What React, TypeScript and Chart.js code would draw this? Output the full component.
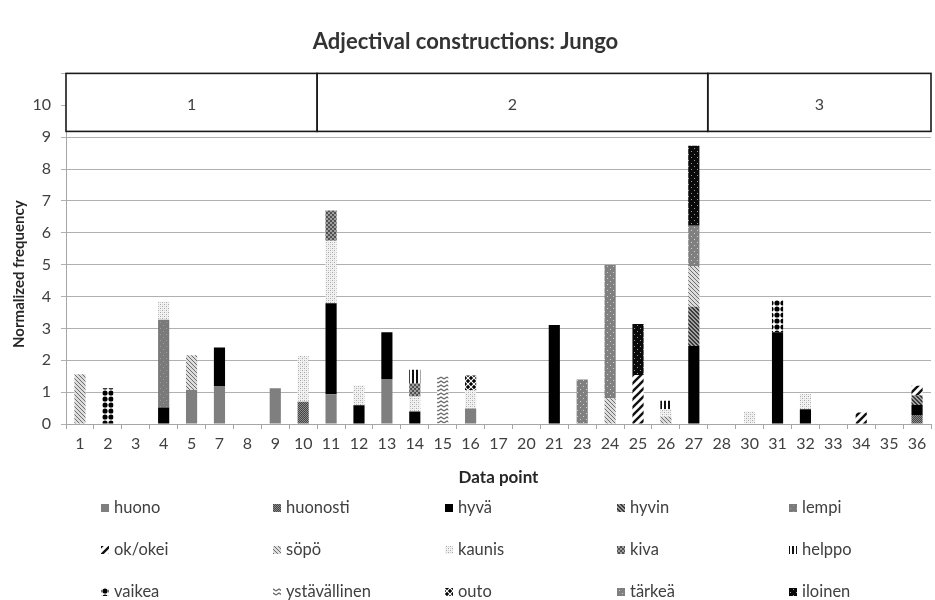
import React, { useEffect, useRef } from 'react';
import { Chart, registerables } from 'chart.js';

Chart.register(...registerables);

const categories = ['1', '2', '3', '4', '5', '7', '8', '9', '10', '11', '12', '13', '14', '15', '16', '17', '20', '21', '23', '24', '25', '26', '27', '28', '30', '31', '32', '33', '34', '35', '36'];

const seriesNames = ['huono', 'huonosti', 'hyvä', 'hyvin', 'lempi', 'ok/okei', 'söpö', 'kaunis', 'kiva', 'helppo', 'vaikea', 'ystävällinen', 'outo', 'tärkeä', 'iloinen'];

//                  1  2  3  4     5     7     8  9     10    11    12    13    14    15    16    17 20 21    23   24    25    26    27    28 30    31    32    33 34    35 36
const huono =      [0, 0, 0, 0,    1.07, 1.19, 0, 1.12, 0,    0.93, 0,    1.41, 0,    0,    0.49, 0, 0, 0,    0,   0,    0,    0,    0,    0, 0,    0,    0,    0, 0,    0, 0];
const huonosti =   [0, 0, 0, 0,    0,    0,    0, 0,    0.70, 0,    0,    0,    0,    0,    0,    0, 0, 0,    0,   0,    0,    0,    0,    0, 0,    0,    0,    0, 0,    0, 0.28];
const hyva =       [0, 0, 0, 0.52, 0,    1.21, 0, 0,    0,    2.86, 0.59, 1.47, 0.39, 0,    0,    0, 0, 3.11, 0,   0,    0,    0,    2.45, 0, 0,    2.88, 0.46, 0, 0,    0, 0.32];
const hyvin =      [0, 0, 0, 0,    0,    0,    0, 0,    0,    0,    0,    0,    0,    0,    0,    0, 0, 0,    0,   0,    0,    0,    1.23, 0, 0,    0,    0,    0, 0,    0, 0.30];
const lempi =      [0, 0, 0, 2.75, 0,    0,    0, 0,    0,    0,    0,    0,    0,    0,    0,    0, 0, 0,    0,   0,    0,    0,    0,    0, 0,    0,    0,    0, 0,    0, 0];
const okOkei =     [0, 0, 0, 0,    0,    0,    0, 0,    0,    0,    0,    0,    0,    0,    0,    0, 0, 0,    0,   0,    1.54, 0,    0,    0, 0,    0,    0,    0, 0.36, 0, 0.30];
const sopo =       [1.56, 0, 0, 0, 1.09, 0,    0, 0,    0,    0,    0,    0,    0,    0,    0,    0, 0, 0,    0,   0.81, 0,    0.23, 1.28, 0, 0,    0,    0,    0, 0,    0, 0];
const kaunis =     [0, 0, 0, 0.57, 0,    0,    0, 0,    1.43, 1.96, 0.62, 0,    0.47, 0,    0.58, 0, 0, 0,    0,   0,    0,    0.23, 0,    0, 0.39, 0,    0.48, 0, 0,    0, 0];
const kiva =       [0, 0, 0, 0,    0,    0,    0, 0,    0,    0.95, 0,    0,    0.42, 0,    0,    0, 0, 0,    0,   0,    0,    0,    0,    0, 0,    0,    0,    0, 0,    0, 0];
const helppo =     [0, 0, 0, 0,    0,    0,    0, 0,    0,    0,    0,    0,    0.42, 0,    0,    0, 0, 0,    0,   0,    0,    0.27, 0,    0, 0,    0,    0,    0, 0,    0, 0];
const vaikea =     [0, 1.12, 0, 0, 0,    0,    0, 0,    0,    0,    0,    0,    0,    0,    0,    0, 0, 0,    0,   0,    0,    0,    0,    0, 0,    1.01, 0,    0, 0,    0, 0];
const ystavallinen=[0, 0, 0, 0,    0,    0,    0, 0,    0,    0,    0,    0,    0,    1.49, 0,    0, 0, 0,    0,   0,    0,    0,    0,    0, 0,    0,    0,    0, 0,    0, 0];
const outo =       [0, 0, 0, 0,    0,    0,    0, 0,    0,    0,    0,    0,    0,    0,    0.45, 0, 0, 0,    0,   0,    0,    0,    0,    0, 0,    0,    0,    0, 0,    0, 0];
const tarkea =     [0, 0, 0, 0,    0,    0,    0, 0,    0,    0,    0,    0,    0,    0,    0,    0, 0, 0,    1.40, 4.18, 0,   0,    1.26, 0, 0,    0,    0,    0, 0,    0, 0];
const iloinen =    [0, 0, 0, 0,    0,    0,    0, 0,    0,    0,    0,    0,    0,    0,    0,    0, 0, 0,    0,   0,    1.60, 0,    2.51, 0, 0,    0,    0,    0, 0,    0, 0];

const seriesValues = [huono, huonosti, hyva, hyvin, lempi, okOkei, sopo, kaunis, kiva, helppo, vaikea, ystavallinen, outo, tarkea, iloinen];

const groupLabels = ['1', '2', '3'];
const groupFirst = ['1', '11', '28'];
const groupLast = ['10', '27', '36'];
const groupLabelValue = 10;
const boxBottomValue = 9.18;
const yMax = 11;
const yTitleCenterValue = 4.7;

const titleText = 'Adjectival constructions: Jungo';
const yTitle = 'Normalized frequency';
const xTitle = 'Data point';

const FONT = 'Lato, "Open Sans", sans-serif';
const TEXT = '#404040';

function pat(w: number, h: number, bg: string | null, draw: (g: CanvasRenderingContext2D) => void): CanvasPattern {
  const c = document.createElement('canvas');
  c.width = w; c.height = h;
  const g = c.getContext('2d') as CanvasRenderingContext2D;
  if (bg) { g.fillStyle = bg; g.fillRect(0, 0, w, h); }
  draw(g);
  return g.createPattern(c, 'repeat') as CanvasPattern;
}
function px(g: CanvasRenderingContext2D, color: string, pts: number[][]) {
  g.fillStyle = color;
  pts.forEach(([x, y]) => g.fillRect(x, y, 1, 1));
}

function makeFills(): (string | CanvasPattern)[] {
  return [
    '#7f7f7f',
    pat(2, 2, '#454545', g => px(g, '#8c8c8c', [[0, 0], [1, 1]])),
    '#000000',
    pat(4, 4, '#a0a0a0', g => px(g, '#3a3a3a', [[0, 0], [1, 1], [2, 2], [3, 3], [1, 0], [2, 1], [3, 2], [0, 3]])),
    pat(6, 6, '#7a7a7a', g => px(g, '#9c9c9c', [[1, 1], [4, 4]])),
    pat(8, 8, '#ffffff', g => {
      g.strokeStyle = '#111'; g.lineWidth = 2.4;
      g.beginPath();
      g.moveTo(-4, 4); g.lineTo(4, -4);
      g.moveTo(0, 8); g.lineTo(8, 0);
      g.moveTo(4, 12); g.lineTo(12, 4);
      g.stroke();
    }),
    pat(4, 4, '#dcdcdc', g => px(g, '#6e6e6e', [[0, 0], [1, 1], [2, 2], [3, 3]])),
    pat(4, 4, '#f2f2f2', g => { px(g, '#a9a9a9', [[0, 0], [2, 2]]); px(g, '#d0d0d0', [[2, 0], [0, 2]]); }),
    pat(4, 4, '#505050', g => { g.fillStyle = '#a0a0a0'; g.fillRect(0, 0, 2, 2); g.fillRect(2, 2, 2, 2); }),
    pat(4, 4, '#ffffff', g => { g.fillStyle = '#111'; g.fillRect(0, 0, 2, 4); }),
    pat(6, 6, '#ffffff', g => { g.fillStyle = '#000'; g.beginPath(); g.arc(3, 3, 2.6, 0, Math.PI * 2); g.fill(); }),
    pat(6, 4, '#ffffff', g => {
      g.strokeStyle = '#666'; g.lineWidth = 1.3;
      g.beginPath(); g.moveTo(0, 3); g.lineTo(3, 1); g.lineTo(6, 3); g.stroke();
    }),
    pat(6, 6, '#000000', g => {
      g.strokeStyle = '#fff'; g.lineWidth = 1.2;
      g.beginPath();
      g.moveTo(0, 0); g.lineTo(6, 6);
      g.moveTo(6, 0); g.lineTo(0, 6);
      g.stroke();
    }),
    pat(6, 6, '#808080', g => px(g, '#cfcfcf', [[1, 2], [4, 5]])),
    pat(6, 6, '#0a0a0a', g => px(g, '#9a9a9a', [[1, 1], [4, 4]])),
  ];
}

export default function App() {
  const ref = useRef<HTMLCanvasElement | null>(null);

  useEffect(() => {
    if (!ref.current) return;
    const fills = makeFills();

    const overlay = {
      id: 'overlay',
      afterDraw(chart: any) {
        const { ctx, chartArea, scales } = chart;
        const x = scales.x, y = scales.y;
        const half = (x.getPixelForValue(1) - x.getPixelForValue(0)) / 2;
        const top = y.getPixelForValue(yMax);
        const bottom = y.getPixelForValue(boxBottomValue);
        ctx.save();
        ctx.fillStyle = '#ffffff';
        ctx.fillRect(chartArea.left, top, chartArea.right - chartArea.left, bottom - top);
        ctx.strokeStyle = '#1a1a1a';
        ctx.lineWidth = 1.6;
        ctx.font = `16px ${FONT}`;
        ctx.textAlign = 'center';
        ctx.textBaseline = 'middle';
        groupLabels.forEach((lab, i) => {
          const x0 = x.getPixelForValue(categories.indexOf(groupFirst[i])) - half;
          const x1 = x.getPixelForValue(categories.indexOf(groupLast[i])) + half;
          ctx.strokeRect(x0, top, x1 - x0, bottom - top);
          ctx.fillStyle = TEXT;
          ctx.fillText(lab, (x0 + x1) / 2, y.getPixelForValue(groupLabelValue));
        });

        // y axis title
        ctx.save();
        ctx.translate(19, y.getPixelForValue(yTitleCenterValue));
        ctx.rotate(-Math.PI / 2);
        ctx.font = `bold 15px ${FONT}`;
        ctx.fillStyle = '#262626';
        ctx.fillText(yTitle, 0, 0);
        ctx.restore();

        // legend
        ctx.textAlign = 'left';
        ctx.font = `16.5px ${FONT}`;
        chart.data.datasets.forEach((ds: any, i: number) => {
          const col = i % 5;
          const row = Math.floor(i / 5);
          const lx = 101 + col * 172;
          const ly = 508 + row * 42;
          ctx.fillStyle = ds.backgroundColor;
          ctx.fillRect(lx, ly - 4, 8, 8);
          ctx.fillStyle = TEXT;
          ctx.fillText(ds.label, lx + 13, ly);
        });
        ctx.restore();
      },
    };

    const chart = new Chart(ref.current, {
      type: 'bar',
      data: {
        labels: categories,
        datasets: seriesNames.map((name, i) => ({
          label: name,
          data: seriesValues[i],
          backgroundColor: fills[i] as any,
          borderWidth: 0,
          barPercentage: 0.4,
          categoryPercentage: 1,
        })),
      },
      options: {
        responsive: false,
        animation: false,
        events: [],
        layout: { padding: { left: 0, right: 4, top: 0, bottom: 109 } },
        plugins: {
          legend: { display: false },
          tooltip: { enabled: false },
          title: {
            display: true,
            text: titleText,
            color: '#333',
            font: { family: FONT, size: 22, weight: 'bold' },
            padding: { top: 29, bottom: 18 },
          },
        },
        scales: {
          x: {
            stacked: true,
            afterFit: (s: any) => { s.height = 67; },
            grid: { display: true, offset: true, drawOnChartArea: false, drawTicks: true, tickLength: 5, color: '#a6a6a6' },
            border: { display: true, color: '#a6a6a6' },
            ticks: { color: TEXT, font: { family: FONT, size: 16 }, padding: 5, maxRotation: 0, autoSkip: false },
            title: { display: true, text: xTitle, color: '#262626', font: { family: FONT, size: 17, weight: 'bold' }, padding: { top: 0, bottom: 3 } },
          },
          y: {
            stacked: true,
            min: 0,
            max: yMax,
            afterFit: (s: any) => { s.width = 66; },
            grid: { color: '#b0b0b0', tickLength: 5, drawTicks: true },
            border: { display: true, color: '#a6a6a6' },
            ticks: {
              stepSize: 1,
              color: TEXT,
              font: { family: FONT, size: 16 },
              padding: 10,
              callback: (v: any) => (Number(v) >= yMax ? '' : String(v)),
            },
          },
        },
      },
      plugins: [overlay],
    });
    return () => chart.destroy();
  }, []);

  return (
    <div style={{ position: 'fixed', left: 0, top: 0, width: 935, height: 600, background: '#fff' }}>
      <canvas ref={ref} width={935} height={600} />
    </div>
  );
}
